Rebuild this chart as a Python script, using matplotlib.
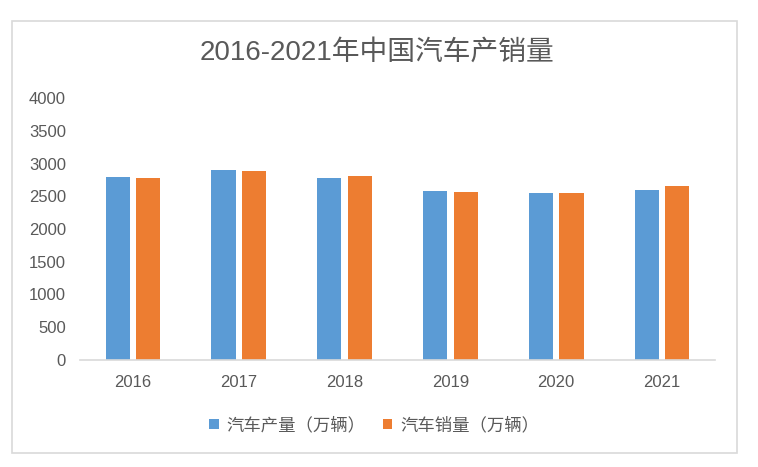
import matplotlib
matplotlib.use("Agg")
import matplotlib.pyplot as plt
import numpy as np
from matplotlib.patches import Rectangle

plt.rcParams['font.family'] = ['Liberation Sans', 'Noto Sans CJK SC', 'DejaVu Sans']

# datos
anios = ['2016', '2017', '2018', '2019', '2020', '2021']
produccion = [2796, 2899, 2776, 2581, 2551, 2597]
ventas = [2776, 2883, 2811, 2566, 2551, 2658]
yticks = [0, 500, 1000, 1500, 2000, 2500, 3000, 3500, 4000]

azul = '#5B9BD5'
naranja = '#ED7D31'
gris = '#595959'

fig = plt.figure(figsize=(7.58, 4.67), dpi=100)

# marco del gráfico
fig.patches.append(Rectangle((12 / 758, 1 - 453 / 467), 725 / 758, 432 / 467,
                             transform=fig.transFigure, fill=False,
                             edgecolor='#D9D9D9', linewidth=1.2))

ax = fig.add_axes([80 / 758, 1 - 360 / 467, 635 / 758, 262 / 467])

x = np.arange(len(anios))
ancho = 0.227
b1 = ax.bar(x - 0.144, produccion, ancho, color=azul, label='汽车产量（万辆）')
b2 = ax.bar(x + 0.144, ventas, ancho, color=naranja, label='汽车销量（万辆）')

ax.set_xlim(-0.5, 5.5)
ax.set_ylim(0, 4000)
ax.set_yticks(yticks)
ax.set_xticks(x)
ax.set_xticklabels(anios)

for s in ['top', 'right', 'left']:
    ax.spines[s].set_visible(False)
ax.spines['bottom'].set_color('#D9D9D9')
ax.spines['bottom'].set_linewidth(1.2)

ax.tick_params(axis='both', length=0, labelsize=12, labelcolor=gris)
ax.tick_params(axis='y', pad=10)
ax.tick_params(axis='x', pad=11)

fig.text(377 / 758, 1 - 53 / 467, '2016-2021年中国汽车产销量', ha='center', va='center',
         fontsize=20, color=gris)

leg = fig.legend(handles=[b1, b2], loc='center', bbox_to_anchor=(374 / 758, 1 - 425 / 467),
                 ncol=2, frameon=False, fontsize=12.5, handlelength=0.55, handleheight=0.55,
                 handletextpad=0.45, columnspacing=1.0, labelcolor=gris)

fig.savefig('out.png', dpi=100)
